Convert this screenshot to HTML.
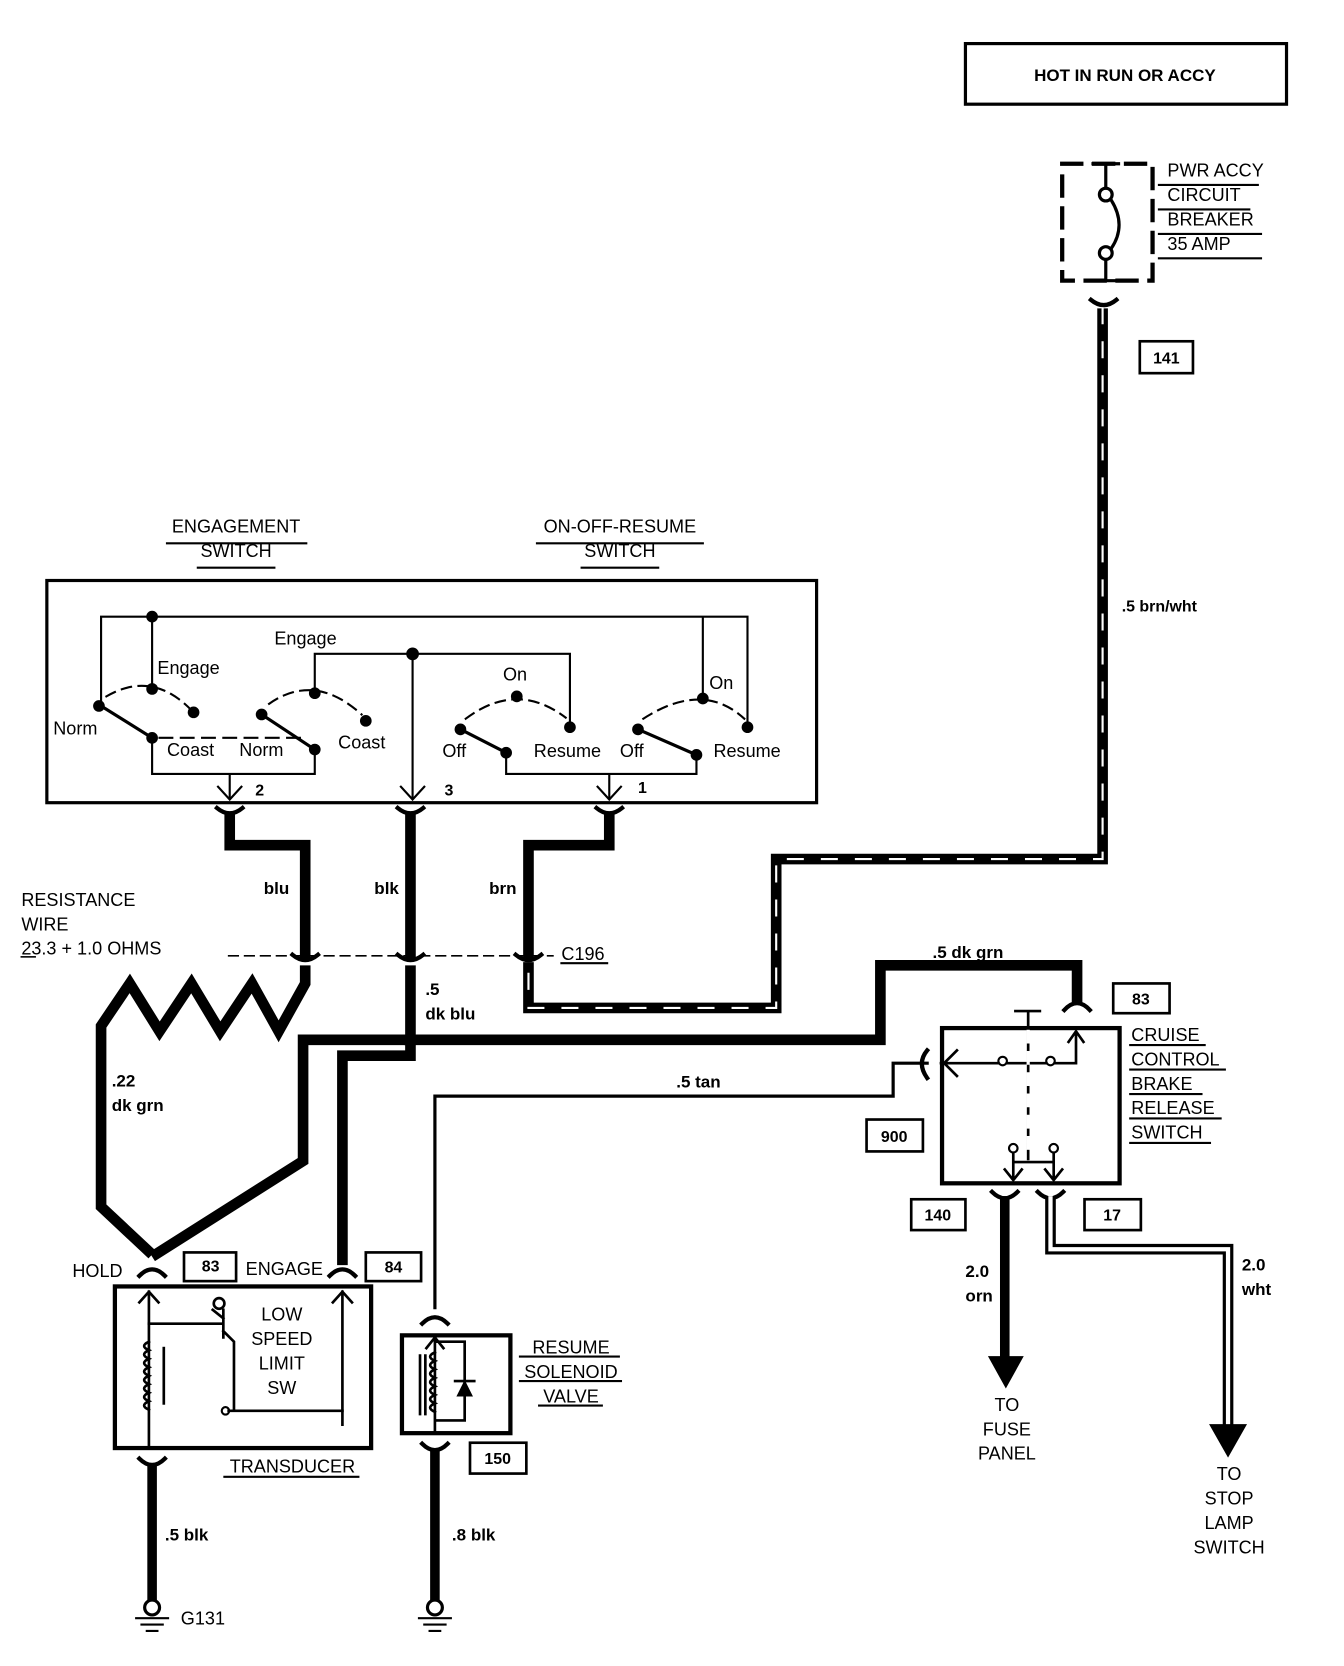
<!DOCTYPE html>
<html><head><meta charset="utf-8"><style>
html,body{margin:0;padding:0;background:#fff}
svg{display:block}
text{font-family:"Liberation Sans",Arial,sans-serif;fill:#000}
.b{font-weight:bold}
</style></head><body>
<svg width="1344" height="1666" viewBox="0 0 1264 1567" xmlns="http://www.w3.org/2000/svg">
<defs>
<marker id="ah" viewBox="0 0 20 20" refX="10" refY="2" markerWidth="20" markerHeight="20" markerUnits="userSpaceOnUse" orient="auto-start-reverse"></marker>
</defs>
<g fill="none" stroke="#000" stroke-linecap="square">
<!-- HOT box -->
<rect x="908" y="41" width="302" height="57" stroke-width="3"/>
<!-- breaker -->
<rect x="999" y="154" width="85" height="110" stroke-width="4" stroke-dasharray="18 12"/>
<path d="M1028 154 H1052 M1040 154 V177 M1028 264 H1052 M1040 264 V244" stroke-width="3"/>
<circle cx="1040" cy="183" r="6" stroke-width="3"/>
<circle cx="1040" cy="238" r="6" stroke-width="3"/>
<path d="M1045 188 Q1060 212 1045 234" stroke-width="3"/>
<path d="M1090 174 H1183 M1090 197 H1175 M1090 220 H1186 M1090 243 H1186" stroke-width="2"/>
<!-- 141 wire hatched -->
<path d="M1026 282 Q1038 292 1050 282" stroke-width="4"/>
<path d="M1037 290 V808 H730 V948 H497 V905" stroke-width="10" stroke-linecap="butt"/>
<path d="M1037 290 V808 H730 V948 H497 V905" stroke="#fff" stroke-width="2" stroke-dasharray="14 18"/>
<rect x="1072" y="321" width="50" height="30" stroke-width="2.5"/>
<!-- engagement box -->
<rect x="44" y="546" width="724" height="209" stroke-width="3"/>
<path d="M157 511 H288 M186 534 H258 M505 511 H661 M547 534 H619" stroke-width="2"/>
<g stroke-width="2">
<path d="M95 662 V580 H703 V684 M143 580 V648 M661 580 V657"/>
<path d="M296 652 V615 H536 V684 M388 615 V750"/>
<path d="M143 694 V728 H296 V705 M216 728 V750 M476 708 V728 H655 V710 M573 728 V750"/>
<path d="M205 740 L216 752 L227 740 M377 740 L388 752 L399 740 M562 740 L573 752 L584 740"/>
<path d="M95 664 L143 694 M246 672 L296 705 M433 686 L476 708 M600 686 L655 710" stroke-width="3"/>
<path d="M100 655 Q143 630 180 668 M253 662 Q296 632 340 672 M438 676 Q486 640 532 675 M605 676 Q661 640 700 676" stroke-dasharray="9 7"/>
<path d="M150 694 H290" stroke-dasharray="12 8"/>
</g>
<g fill="#000" stroke="none">
<circle cx="143" cy="580" r="5.5"/><circle cx="388" cy="615" r="6"/>
<circle cx="93" cy="664" r="5.5"/><circle cx="143" cy="648" r="5.5"/><circle cx="182" cy="670" r="5.5"/><circle cx="143" cy="694" r="5.5"/>
<circle cx="246" cy="672" r="5.5"/><circle cx="296" cy="652" r="5.5"/><circle cx="344" cy="678" r="5.5"/><circle cx="296" cy="705" r="5.5"/>
<circle cx="433" cy="686" r="5.5"/><circle cx="486" cy="655" r="5.5"/><circle cx="536" cy="684" r="5.5"/><circle cx="476" cy="708" r="5.5"/>
<circle cx="600" cy="686" r="5.5"/><circle cx="661" cy="657" r="5.5"/><circle cx="703" cy="684" r="5.5"/><circle cx="655" cy="710" r="5.5"/>
</g>
<!-- connectors below box -->
<path d="M204 760 Q216 770 228 760 M374 760 Q386 770 398 760 M561 760 Q573 770 585 760" stroke-width="4"/>
<path d="M275 898 Q287 908 299 898 M374 898 Q386 908 398 898 M485 898 Q497 908 509 898" stroke-width="4"/>
<path d="M216 766 V795 H287 V902" stroke-width="10" stroke-linecap="butt"/>
<path d="M386 766 V902" stroke-width="10" stroke-linecap="butt"/>
<path d="M573 766 V795 H497 V902" stroke-width="10" stroke-linecap="butt"/>
<path d="M215 899 H520" stroke-width="1.5" stroke-dasharray="9 6"/>
<path d="M528 906 H571" stroke-width="2"/>
<path d="M20 900 H33" stroke-width="1.5"/>
<!-- resistance zigzag and dk grn -->
<path d="M287 908 V925 L262 970 L237 925 L207 970 L180 925 L150 970 L122 925 L95 965 V1135 L143 1180" stroke-width="10" stroke-linejoin="miter" stroke-linecap="butt"/>
<path d="M386 908 V978 H285 V1092 L143 1182" stroke-width="10" stroke-linecap="butt"/>
<path d="M380 978 H828 V908 H1013 V945" stroke-width="10" stroke-linecap="butt"/>
<path d="M386 975 V993 H322 V1190" stroke-width="10" stroke-linecap="butt"/>
<!-- tan -->
<path d="M409 1230 V1031 H840 V1000 H872" stroke-width="3"/>
<path d="M872 988 Q862 1000 872 1014" stroke-width="4"/>
<path d="M1001 950 Q1013 937 1025 950" stroke-width="4"/>
<!-- transducer -->
<rect x="108" y="1210" width="241" height="152" stroke-width="4"/>
<path d="M131 1200 Q143 1188 155 1200 M310 1200 Q322 1188 334 1200" stroke-width="4"/>
<rect x="173" y="1178" width="49" height="27" stroke-width="2.5"/>
<rect x="344" y="1178" width="52" height="27" stroke-width="2.5"/>
<g stroke-width="2.5">
<path d="M140 1362 V1215 M131 1225 L140 1215 L149 1225 M322 1340 V1215 M313 1225 L322 1215 L331 1225"/>
<path d="M140 1245 H210 M210 1232 V1258 M210 1240 L200 1232 M210 1252 L220 1262 V1325 M215 1327 H322"/>
<path d="M140 1262 q-9 4 0 8 q-9 4 0 8 q-9 4 0 8 q-9 4 0 8 q-9 4 0 8 q-9 4 0 8 q-9 4 0 8 q-9 4 0 8"/>
<path d="M154 1268 V1320"/>
</g>
<circle cx="206" cy="1226" r="5" stroke-width="2.5"/>
<circle cx="212" cy="1327" r="3.5" stroke-width="2"/>
<path d="M211 1389 H337" stroke-width="2"/>
<path d="M131 1372 Q143 1384 155 1372" stroke-width="4"/>
<path d="M143 1376 V1505" stroke-width="9" stroke-linecap="butt"/>
<circle cx="143" cy="1512" r="7" stroke-width="3"/>
<path d="M128 1522 H158 M133 1528 H153 M138 1534 H148" stroke-width="2"/>
<!-- resume solenoid -->
<rect x="378" y="1256" width="102" height="92" stroke-width="4"/>
<path d="M397 1245 Q409 1233 421 1245" stroke-width="4"/>
<g stroke-width="2.5">
<path d="M409 1256 V1348 M401 1268 L409 1258 L417 1268 M409 1262 H437 V1336 H409"/>
<path d="M409 1272 q-9 4 0 8 q-9 4 0 8 q-9 4 0 8 q-9 4 0 8 q-9 4 0 8 q-9 4 0 8 q-9 4 0 8"/>
<path d="M395 1275 V1330 M400 1275 V1330 M428 1299 H446"/>
</g>
<path d="M430 1313 L437 1299 L444 1313 Z" fill="#000" stroke="#000" stroke-width="1"/>
<path d="M397 1358 Q409 1370 421 1358" stroke-width="4"/>
<path d="M409 1362 V1505" stroke-width="9" stroke-linecap="butt"/>
<circle cx="409" cy="1512" r="7" stroke-width="3"/>
<path d="M394 1522 H424 M399 1528 H419 M404 1534 H414" stroke-width="2"/>
<rect x="442" y="1357" width="53" height="29" stroke-width="2.5"/>
<path d="M489 1276 H582 M489 1299 H584 M507 1322 H566" stroke-width="2"/>
<!-- brake switch -->
<rect x="886" y="967" width="167" height="146" stroke-width="4"/>
<g stroke-width="2.5">
<path d="M955 951 H978 M967 951 V1090" stroke-dasharray="none"/>
<path d="M885 1000 H940 M940 1000 H990 H1012 V972 M1005 980 L1012 970 L1019 980 M900 988 L888 1000 L900 1012"/>
<path d="M953 1082 V1108 M991 1082 V1108 M953 1093 H991 M945 1100 L953 1110 L961 1100 M983 1100 L991 1110 L999 1100"/>
</g>
<path d="M967 960 V1090" stroke="#fff" stroke-width="3" stroke-dasharray="10 10" stroke-dashoffset="-10"/>
<circle cx="943" cy="998" r="4" fill="#fff" stroke-width="2"/><circle cx="988" cy="998" r="4" fill="#fff" stroke-width="2"/>
<circle cx="953" cy="1080" r="4" fill="#fff" stroke-width="2"/><circle cx="991" cy="1080" r="4" fill="#fff" stroke-width="2"/>
<rect x="1047" y="925" width="53" height="28" stroke-width="2.5"/>
<rect x="815" y="1053" width="53" height="30" stroke-width="2.5"/>
<rect x="857" y="1128" width="51" height="29" stroke-width="2.5"/>
<rect x="1020" y="1128" width="53" height="29" stroke-width="2.5"/>
<path d="M1063 983 H1133 M1063 1006 H1152 M1063 1029 H1130 M1063 1052 H1148 M1063 1075 H1138" stroke-width="2"/>
<path d="M933 1121 Q945 1133 957 1121 M976 1121 Q988 1133 1000 1121" stroke-width="4"/>
<path d="M945 1125 V1278" stroke-width="9" stroke-linecap="butt"/>
<path d="M930 1276 H962 L946 1305 Z" fill="#000" stroke-width="1"/>
<path d="M988 1125 V1175 H1155 V1342" stroke-width="10" stroke-linecap="butt" stroke-linejoin="miter"/>
<path d="M988 1125 V1175 H1155 V1342" stroke="#fff" stroke-width="4" stroke-linecap="butt" stroke-linejoin="miter"/>
<path d="M1138 1340 H1172 L1155 1370 Z" fill="#000" stroke-width="1"/>
</g>
<g font-size="17">
<text x="1058" y="76" text-anchor="middle" class="b" font-size="16">HOT IN RUN OR ACCY</text>
<text x="1098" y="166">PWR ACCY</text><text x="1098" y="189">CIRCUIT</text><text x="1098" y="212">BREAKER</text><text x="1098" y="235">35 AMP</text>
<text x="1097" y="342" text-anchor="middle" class="b" font-size="15">141</text>
<text x="1055" y="575" class="b" font-size="15">.5 brn/wht</text>
<text x="222" y="501" text-anchor="middle">ENGAGEMENT</text><text x="222" y="524" text-anchor="middle">SWITCH</text>
<text x="583" y="501" text-anchor="middle">ON-OFF-RESUME</text><text x="583" y="524" text-anchor="middle">SWITCH</text>
<text x="148" y="634">Engage</text><text x="50" y="691">Norm</text><text x="157" y="711">Coast</text><text x="225" y="711">Norm</text>
<text x="318" y="704">Coast</text><text x="258" y="606">Engage</text>
<text x="473" y="640">On</text><text x="416" y="712">Off</text><text x="502" y="712">Resume</text><text x="583" y="712">Off</text>
<text x="667" y="648">On</text><text x="671" y="712">Resume</text>
<text x="240" y="748" class="b" font-size="15">2</text><text x="418" y="748" class="b" font-size="15">3</text><text x="600" y="746" class="b" font-size="15">1</text>
<text x="248" y="841" class="b" font-size="16">blu</text><text x="352" y="841" class="b" font-size="16">blk</text><text x="460" y="841" class="b" font-size="16">brn</text>
<text x="20" y="852">RESISTANCE</text><text x="20" y="875">WIRE</text><text x="20" y="898">23.3 + 1.0 OHMS</text>
<text x="528" y="903">C196</text>
<text x="105" y="1022" class="b" font-size="16">.22</text><text x="105" y="1045" class="b" font-size="16">dk grn</text>
<text x="400" y="936" class="b" font-size="16">.5</text><text x="400" y="959" class="b" font-size="16">dk blu</text>
<text x="877" y="901" class="b" font-size="16">.5 dk grn</text>
<text x="636" y="1023" class="b" font-size="16">.5 tan</text>
<text x="1064" y="979">CRUISE</text><text x="1064" y="1002">CONTROL</text><text x="1064" y="1025">BRAKE</text><text x="1064" y="1048">RELEASE</text><text x="1064" y="1071">SWITCH</text>
<text x="1073" y="945" text-anchor="middle" class="b" font-size="15">83</text>
<text x="841" y="1074" text-anchor="middle" class="b" font-size="15">900</text>
<text x="882" y="1148" text-anchor="middle" class="b" font-size="15">140</text>
<text x="1046" y="1148" text-anchor="middle" class="b" font-size="15">17</text>
<text x="908" y="1201" class="b" font-size="16">2.0</text><text x="908" y="1224" class="b" font-size="16">orn</text>
<text x="1168" y="1195" class="b" font-size="16">2.0</text><text x="1168" y="1218" class="b" font-size="16">wht</text>
<text x="947" y="1327" text-anchor="middle">TO</text><text x="947" y="1350" text-anchor="middle">FUSE</text><text x="947" y="1373" text-anchor="middle">PANEL</text>
<text x="1156" y="1392" text-anchor="middle">TO</text><text x="1156" y="1415" text-anchor="middle">STOP</text><text x="1156" y="1438" text-anchor="middle">LAMP</text><text x="1156" y="1461" text-anchor="middle">SWITCH</text>
<text x="68" y="1201">HOLD</text><text x="231" y="1199">ENGAGE</text>
<text x="198" y="1196" text-anchor="middle" class="b" font-size="15">83</text>
<text x="370" y="1197" text-anchor="middle" class="b" font-size="15">84</text>
<text x="265" y="1242" text-anchor="middle">LOW</text><text x="265" y="1265" text-anchor="middle">SPEED</text><text x="265" y="1288" text-anchor="middle">LIMIT</text><text x="265" y="1311" text-anchor="middle">SW</text>
<text x="275" y="1385" text-anchor="middle">TRANSDUCER</text>
<text x="537" y="1273" text-anchor="middle">RESUME</text><text x="537" y="1296" text-anchor="middle">SOLENOID</text><text x="537" y="1319" text-anchor="middle">VALVE</text>
<text x="468" y="1377" text-anchor="middle" class="b" font-size="15">150</text>
<text x="155" y="1449" class="b" font-size="16">.5 blk</text><text x="425" y="1449" class="b" font-size="16">.8 blk</text>
<text x="170" y="1528">G131</text>
</g>
</svg>
</body></html>
